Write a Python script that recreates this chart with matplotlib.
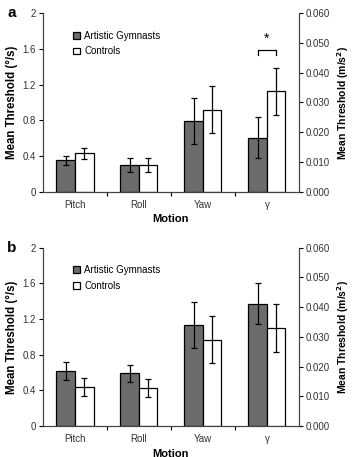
import matplotlib
matplotlib.use("Agg")
import matplotlib.pyplot as plt
import numpy as np

plt.rcParams['font.family'] = ['Liberation Sans', 'DejaVu Sans']

motions = ["Pitch", "Roll", "Yaw", "\u03b3"]

# panel a - pitch, roll, yaw in deg/s (left axis), gamma in m/s^2 (right axis)
a_gym = [0.35, 0.30, 0.79]
a_gym_err = [0.05, 0.075, 0.26]
a_ctl = [0.43, 0.30, 0.92]
a_ctl_err = [0.065, 0.075, 0.26]
a_gamma_gym, a_gamma_gym_err = 0.0182, 0.0070
a_gamma_ctl, a_gamma_ctl_err = 0.0337, 0.0080

# panel b
b_gym = [0.62, 0.59, 1.13]
b_gym_err = [0.10, 0.095, 0.26]
b_ctl = [0.44, 0.43, 0.97]
b_ctl_err = [0.10, 0.10, 0.26]
b_gamma_gym, b_gamma_gym_err = 0.0411, 0.0069
b_gamma_ctl, b_gamma_ctl_err = 0.0330, 0.0080

grey = "#6c6c6c"
w = 0.29
fs = 7


def draw_panel(rect, letter, gym, gym_err, ctl, ctl_err, g_gym, g_gym_err, g_ctl, g_ctl_err, star=False):
    ax = fig.add_axes(rect)
    ax2 = ax.twinx()
    x = np.arange(3)
    ek = dict(elinewidth=0.9, capsize=2.2, capthick=0.9, ecolor="black")
    b1 = ax.bar(x - w / 2, gym, w, yerr=gym_err, color=grey, edgecolor="black", linewidth=0.9, error_kw=ek,
                label="Artistic Gymnasts")
    b2 = ax.bar(x + w / 2, ctl, w, yerr=ctl_err, color="white", edgecolor="black", linewidth=0.9, error_kw=ek,
                label="Controls")
    ax2.bar([3 - w / 2], [g_gym], w, yerr=[g_gym_err], color=grey, edgecolor="black", linewidth=0.9, error_kw=ek)
    ax2.bar([3 + w / 2], [g_ctl], w, yerr=[g_ctl_err], color="white", edgecolor="black", linewidth=0.9, error_kw=ek)

    ax.set_xlim(-0.5, 3.5)
    ax.set_ylim(0, 2)
    ax2.set_ylim(0, 0.06)
    ax.set_yticks([0, 0.4, 0.8, 1.2, 1.6, 2])
    ax.set_yticklabels(["0", "0.4", "0.8", "1.2", "1.6", "2"], fontsize=fs, color="#333333")
    ax2.set_yticks(np.arange(0, 0.0601, 0.01))
    ax2.set_yticklabels(["%.3f" % v for v in np.arange(0, 0.0601, 0.01)], fontsize=fs, color="#333333")

    ax.set_xticks(np.arange(4))
    ax.set_xticklabels(motions, fontsize=fs, color="#333333")
    ax.set_xticks([0.5, 1.5, 2.5], minor=True)
    ax.tick_params(axis="x", which="major", length=0, pad=6)
    ax.tick_params(axis="x", which="minor", length=3, width=0.8, direction="out")
    ax.tick_params(axis="y", length=3, width=0.8, pad=2)
    ax2.tick_params(axis="y", length=3, width=0.8, pad=2)

    for a in (ax, ax2):
        a.spines["top"].set_visible(False)
        for s in ("left", "right", "bottom"):
            a.spines[s].set_linewidth(0.8)
            a.spines[s].set_color("#444444")

    ax.set_ylabel("Mean Threshold (\u00b0/s)", fontsize=8.3, fontweight="bold", labelpad=3)
    ax2.set_ylabel("Mean Threshold (m/s$^\\mathbf{2}$)", fontsize=7.5, fontweight="bold", rotation=90, labelpad=4)
    ax.set_xlabel("Motion", fontsize=8, fontweight="bold", labelpad=3)

    ax.legend(handles=[b1, b2], loc="upper left", bbox_to_anchor=(0.1, 0.93), frameon=False, fontsize=fs,
              handlelength=0.7, handleheight=0.7, handletextpad=0.4, labelspacing=0.6, borderpad=0)

    ax.text(-0.105, 1.0, letter, transform=ax.transAxes, fontsize=11, fontweight="bold", ha="right", va="center")

    if star:
        xl, xr = 3 - w / 2, 3 + w / 2
        ax.plot([xl, xl, xr, xr], [1.53, 1.59, 1.59, 1.53], color="black", lw=0.9)
        ax.text(3, 1.63, "*", ha="center", va="bottom", fontsize=10)


fig = plt.figure(figsize=(3.55, 4.57), dpi=100)
draw_panel([0.121, 0.5805, 0.721, 0.3905], "a", a_gym, a_gym_err, a_ctl, a_ctl_err,
           a_gamma_gym, a_gamma_gym_err, a_gamma_ctl, a_gamma_ctl_err, star=True)
draw_panel([0.121, 0.0678, 0.721, 0.3902], "b", b_gym, b_gym_err, b_ctl, b_ctl_err,
           b_gamma_gym, b_gamma_gym_err, b_gamma_ctl, b_gamma_ctl_err)

fig.savefig("out.png", dpi=100)
